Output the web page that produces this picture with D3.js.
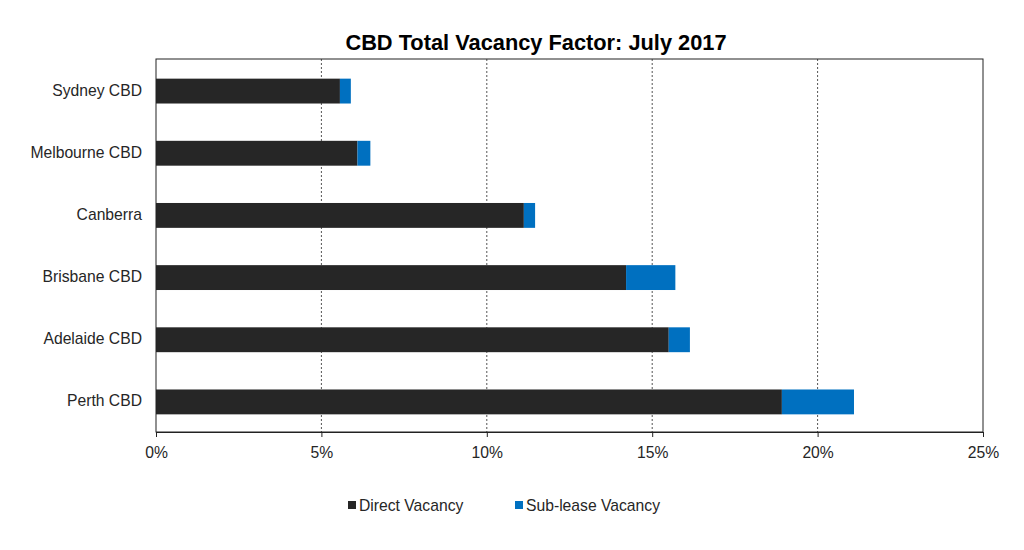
<!DOCTYPE html>
<html><head><meta charset="utf-8">
<script src="https://cdn.jsdelivr.net/npm/d3@7"></script>
<style>body{margin:0;background:#fff}svg{display:block}text{font-family:"Liberation Sans",Arial,sans-serif;fill:#262626}</style>
</head><body>
<svg id="c" width="1024" height="550"></svg>
<script>
const categories = ["Sydney CBD","Melbourne CBD","Canberra","Brisbane CBD","Adelaide CBD","Perth CBD"];
const directVacancy = [5.56, 6.09, 11.12, 14.21, 15.50, 18.92];
const subleaseVacancy = [0.33, 0.39, 0.34, 1.49, 0.64, 2.18];
const seriesNames = ["Direct Vacancy","Sub-lease Vacancy"];
const seriesColors = ["#262626","#0070C0"];
const xTicks = [0,5,10,15,20,25];

const svg = d3.select("#c");
const L=156, R=983, T=59, B=432;
const x = d3.scaleLinear().domain([0,25]).range([L,R]);
const y = d3.scaleBand().domain(categories).range([T,B]).paddingInner(0.6).paddingOuter(0.3);

svg.append("text").attr("x",536).attr("y",50).attr("text-anchor","middle")
  .style("font-size","21.8px").style("font-weight","bold").style("fill","#000").text("CBD Total Vacancy Factor: July 2017");

// gridlines
svg.append("g").selectAll("line").data(xTicks.filter(d=>d>0&&d<25)).join("line")
  .attr("x1",d=>x(d)).attr("x2",d=>x(d)).attr("y1",T).attr("y2",B)
  .attr("stroke","#555").attr("stroke-width",1).attr("stroke-dasharray","2,2");

const data = categories.map((c,i)=>({cat:c, vals:[directVacancy[i], subleaseVacancy[i]]}));
const g = svg.append("g");
data.forEach(d=>{
  let acc=0;
  d.vals.forEach((v,j)=>{
    g.append("rect").attr("x",x(acc)).attr("y",y(d.cat)+1).attr("width",x(acc+v)-x(acc))
     .attr("height",y.bandwidth()).attr("fill",seriesColors[j]);
    acc+=v;
  });
});

// border
svg.append("rect").attr("x",L).attr("y",T).attr("width",R-L).attr("height",B-T)
  .attr("fill","none").attr("stroke","#222").attr("stroke-width",1);

const xa = svg.append("g").attr("transform",`translate(0,${B})`)
  .call(d3.axisBottom(x).tickValues(xTicks).tickFormat(d=>d+"%").tickSize(5).tickSizeOuter(0));
xa.select(".domain").attr("stroke","#222");
xa.selectAll("line").attr("stroke","#222");
xa.selectAll("text").style("font-size","15.7px").attr("dy","1.15em").style("fill","#262626");

const ya = svg.append("g").attr("transform",`translate(${L},0)`)
  .call(d3.axisLeft(y).tickSize(0).tickPadding(14));
ya.select(".domain").remove();
ya.selectAll("text").style("font-size","15.7px").attr("dy","0.35em").style("fill","#262626");

const leg = svg.append("g");
const legX=[348,515];
seriesNames.forEach((n,i)=>{
  leg.append("rect").attr("x",legX[i]).attr("y",501).attr("width",8).attr("height",8).attr("fill",seriesColors[i]);
  leg.append("text").attr("x",legX[i]+11).attr("y",511).style("font-size","15.7px").text(n);
});
</script>
</body></html>
